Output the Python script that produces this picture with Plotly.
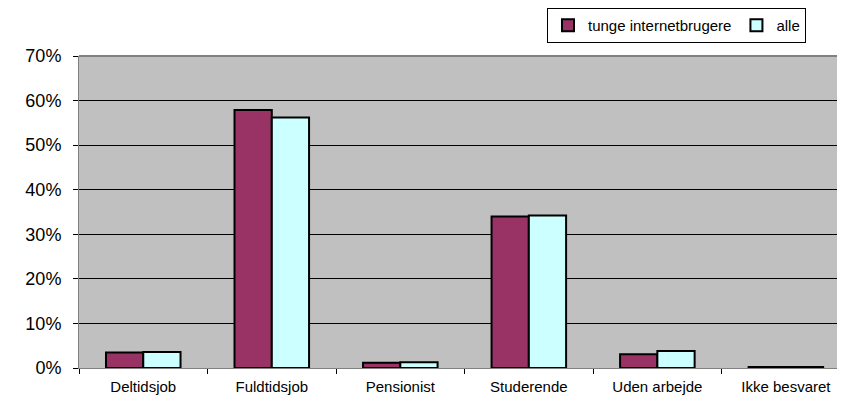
import plotly.graph_objects as go

categories = ["Deltidsjob", "Fuldtidsjob", "Pensionist", "Studerende", "Uden arbejde", "Ikke besvaret"]
tunge = [3.5, 57.9, 1.2, 34.0, 3.1, 0.2]
alle = [3.6, 56.2, 1.3, 34.2, 3.8, 0.2]
y_ticks = [0, 10, 20, 30, 40, 50, 60, 70]
y_tick_labels = [f"{v}%" for v in y_ticks]

fig = go.Figure()
fig.add_trace(go.Bar(x=categories, y=tunge, name="tunge internetbrugere",
                     marker=dict(color="#993366", line=dict(color="black", width=2))))
fig.add_trace(go.Bar(x=categories, y=alle, name="alle",
                     marker=dict(color="#CCFFFF", line=dict(color="black", width=2))))

# page body has an 8px default margin; figure sized to fit the 845x400 window
fig.update_layout(
    width=837, height=392,
    margin=dict(l=71, r=0, t=48, b=32, autoexpand=False),
    paper_bgcolor="white",
    plot_bgcolor="#C0C0C0",
    barmode="group",
    bargap=0.42,
    bargroupgap=0,
    font=dict(family="Liberation Sans, Arial, sans-serif", color="black"),
    legend=dict(orientation="h", xref="container", yref="container",
                x=0.9534, xanchor="right", y=1.0, yanchor="top",
                bordercolor="black", borderwidth=1, bgcolor="white",
                font=dict(size=15), itemwidth=30, tracegroupgap=0),
    showlegend=True,
)
fig.update_xaxes(
    range=[-0.5, 5.46], automargin=False,
    tickson="boundaries", ticks="outside", ticklen=5, tickcolor="black",
    ticklabelstandoff=5,
    showline=True, linecolor="#808080", linewidth=1,
    showgrid=False,
    tickfont=dict(size=15),
)
fig.update_yaxes(
    range=[0, 70], tickvals=y_ticks, ticktext=y_tick_labels, automargin=False,
    ticks="outside", ticklen=5, tickcolor="black",
    ticklabelstandoff=8,
    showline=True, linecolor="#808080", linewidth=1,
    showgrid=True, gridcolor="black", gridwidth=1,
    zeroline=False,
    tickfont=dict(size=18),
)
fig.add_shape(type="line", xref="paper", yref="paper", x0=0, x1=1, y0=1, y1=1,
              line=dict(color="#808080", width=2))

fig.write_html("out.html")
